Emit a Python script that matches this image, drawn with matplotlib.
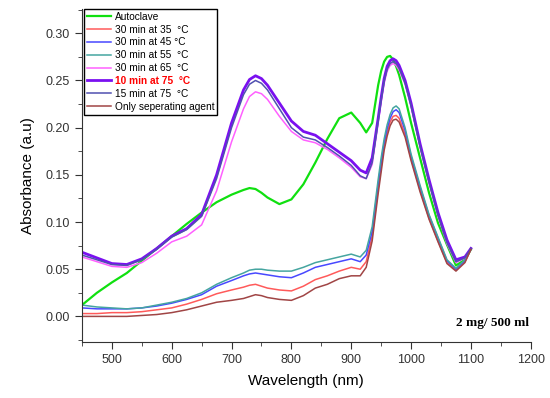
import matplotlib
matplotlib.use('Agg')
import matplotlib.pyplot as plt
from matplotlib.ticker import MultipleLocator, FormatStrFormatter

plt.rcParams['font.family'] = ['Liberation Sans', 'DejaVu Sans']

# wavelength grid (nm)
wavelength = [450, 475, 500, 525, 550, 575, 600, 625, 650, 675,
              700, 720, 730, 740, 750, 760, 780, 800, 820, 840, 860, 880, 900,
              915, 925, 935, 945, 950, 955, 960, 965, 970, 975, 980, 990,
              1000, 1015, 1030, 1045, 1060, 1075, 1090, 1100]

autoclave = [0.012, 0.025, 0.036, 0.046, 0.059, 0.072, 0.085, 0.098, 0.110, 0.121,
             0.129, 0.134, 0.136, 0.135, 0.131, 0.126, 0.119, 0.124, 0.140, 0.163,
             0.188, 0.210, 0.216, 0.205, 0.195, 0.205, 0.245, 0.260, 0.270, 0.275,
             0.276, 0.272, 0.265, 0.256, 0.232, 0.205, 0.168, 0.131, 0.099, 0.076,
             0.054, 0.060, 0.071]
min30_35 = [0.003, 0.003, 0.004, 0.004, 0.005, 0.007, 0.009, 0.013, 0.018, 0.024,
            0.028, 0.031, 0.033, 0.034, 0.032, 0.030, 0.028, 0.027, 0.032, 0.039,
            0.043, 0.048, 0.052, 0.050, 0.058, 0.085, 0.135, 0.158, 0.180, 0.195,
            0.206, 0.212, 0.213, 0.210, 0.193, 0.167, 0.134, 0.104, 0.080, 0.057,
            0.049, 0.058, 0.071]
min30_45 = [0.009, 0.008, 0.008, 0.008, 0.009, 0.011, 0.014, 0.018, 0.023, 0.032,
            0.038, 0.043, 0.045, 0.046, 0.045, 0.044, 0.042, 0.041, 0.046, 0.052,
            0.055, 0.058, 0.061, 0.058, 0.065, 0.090, 0.140, 0.163, 0.184, 0.199,
            0.210, 0.217, 0.219, 0.216, 0.197, 0.170, 0.137, 0.107, 0.083, 0.059,
            0.050, 0.059, 0.072]
min30_55 = [0.012, 0.010, 0.009, 0.008, 0.009, 0.012, 0.015, 0.019, 0.025, 0.034,
            0.041, 0.046, 0.049, 0.050, 0.050, 0.049, 0.048, 0.048, 0.052, 0.057,
            0.060, 0.063, 0.066, 0.063, 0.070, 0.095, 0.145, 0.168, 0.188, 0.203,
            0.214, 0.221, 0.223, 0.220, 0.200, 0.172, 0.139, 0.108, 0.084, 0.060,
            0.051, 0.060, 0.072]
min30_65 = [0.063, 0.058, 0.053, 0.052, 0.057, 0.067, 0.079, 0.085, 0.097, 0.133,
            0.185, 0.220, 0.233, 0.238, 0.236, 0.230, 0.212, 0.196, 0.187, 0.184,
            0.177, 0.168, 0.158, 0.148, 0.146, 0.161, 0.205, 0.227, 0.247, 0.260,
            0.266, 0.268, 0.266, 0.261, 0.246, 0.222, 0.179, 0.141, 0.106, 0.077,
            0.057, 0.062, 0.072]
min10_75 = [0.068, 0.062, 0.056, 0.055, 0.061, 0.072, 0.085, 0.093, 0.108, 0.150,
            0.205, 0.240, 0.251, 0.255, 0.252, 0.245, 0.226, 0.207, 0.196, 0.192,
            0.183, 0.174, 0.165, 0.155, 0.152, 0.168, 0.210, 0.232, 0.252, 0.265,
            0.271, 0.273, 0.271, 0.266, 0.250, 0.226, 0.183, 0.145, 0.110, 0.081,
            0.060, 0.063, 0.072]
min15_75 = [0.065, 0.060, 0.055, 0.054, 0.060, 0.071, 0.084, 0.092, 0.106, 0.146,
            0.200, 0.235, 0.246, 0.250, 0.247, 0.240, 0.220, 0.200, 0.190, 0.187,
            0.179, 0.170, 0.160, 0.149, 0.146, 0.163, 0.207, 0.229, 0.249, 0.262,
            0.268, 0.270, 0.268, 0.263, 0.247, 0.223, 0.180, 0.142, 0.107, 0.078,
            0.058, 0.062, 0.072]
agent_only = [0.000, 0.000, 0.000, 0.000, 0.001, 0.002, 0.004, 0.007, 0.011, 0.015,
              0.017, 0.019, 0.021, 0.023, 0.022, 0.020, 0.018, 0.017, 0.022, 0.030,
              0.034, 0.040, 0.043, 0.043, 0.052, 0.080, 0.130, 0.153, 0.176, 0.191,
              0.202, 0.208, 0.209, 0.206, 0.190, 0.165, 0.132, 0.103, 0.079, 0.056,
              0.048, 0.057, 0.071]

series = [
    ('Autoclave', autoclave, '#10E010', 1.6),
    ('30 min at 35  \u00b0C', min30_35, '#FF5A5A', 1.1),
    ('30 min at 45 \u00b0C', min30_45, '#4848FF', 1.1),
    ('30 min at 55  \u00b0C', min30_55, '#45A5A0', 1.1),
    ('30 min at 65  \u00b0C', min30_65, '#FF60FF', 1.1),
    ('10 min at 75  \u00b0C', min10_75, '#7A10F0', 2.0),
    ('15 min at 75  \u00b0C', min15_75, '#5050B0', 1.1),
    ('Only seperating agent', agent_only, '#A04545', 1.1),
]

fig = plt.figure(figsize=(5.5, 3.98), dpi=100)
ax = fig.add_axes([0.149, 0.141, 0.816, 0.837])

for label, vals, color, lw in series:
    ax.plot(wavelength, vals, color=color, lw=lw, label=label)

ax.set_xlim(450, 1200)
ax.set_ylim(-0.027, 0.326)
ax.set_xticks(range(500, 1201, 100))
ax.xaxis.set_minor_locator(MultipleLocator(50))
ax.yaxis.set_major_locator(MultipleLocator(0.05))
ax.yaxis.set_minor_locator(MultipleLocator(0.025))
ax.yaxis.set_major_formatter(FormatStrFormatter('%.2f'))

for side in ['top', 'right']:
    ax.spines[side].set_visible(False)
for side in ['left', 'bottom']:
    ax.spines[side].set_color('#333333')
ax.tick_params(which='both', direction='out', colors='#333333', labelcolor='#333333',
               labelsize=9)
ax.tick_params(which='major', length=5)
ax.tick_params(which='minor', length=3)

ax.set_xlabel('Wavelength (nm)', fontsize=11, labelpad=6)
ax.set_ylabel('Absorbance (a.u)', fontsize=11, labelpad=8)

ax.text(0.995, 0.04, '2 mg/ 500 ml', transform=ax.transAxes, ha='right', va='bottom',
        fontsize=9.5, fontweight='bold', family='Liberation Serif')

leg = ax.legend(loc='upper left', bbox_to_anchor=(0.005, 1.0), fontsize=7.3,
                frameon=True, fancybox=False, edgecolor='black', framealpha=1,
                handlelength=2.3, handletextpad=0.4, labelspacing=0.28,
                borderpad=0.3, borderaxespad=0.0)
leg.get_frame().set_linewidth(1.0)
for txt in leg.get_texts():
    if txt.get_text().startswith('10 min'):
        txt.set_color('red')
        txt.set_fontweight('bold')

fig.savefig('out.png', dpi=100)
